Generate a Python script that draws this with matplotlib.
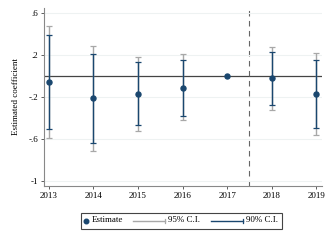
import matplotlib
matplotlib.use("Agg")
import matplotlib.pyplot as plt
from matplotlib.lines import Line2D
from matplotlib.patches import Rectangle
import numpy as np

plt.rcParams['font.family'] = ['Liberation Serif', 'DejaVu Serif']

# ...   data
years = [2013, 2014, 2015, 2016, 2017, 2018, 2019]
estimate = [-0.055, -0.21, -0.17, -0.11, 0.0, -0.02, -0.175]
ci90_lo = [-0.505, -0.635, -0.47, -0.38, 0.0, -0.28, -0.50]
ci90_hi = [0.39, 0.205, 0.13, 0.15, 0.0, 0.23, 0.15]
ci95_lo = [-0.59, -0.71, -0.52, -0.42, 0.0, -0.32, -0.56]
ci95_hi = [0.48, 0.29, 0.18, 0.21, 0.0, 0.28, 0.215]
yticks = [0.6, 0.2, -0.2, -0.6, -1.0]
ytick_labels = ['.6', '.2', '-.2', '-.6', '-1']

navy = '#1a476f'
gray = '#a8a8a8'

W, H = 330, 240
fig = plt.figure(figsize=(W / 100, H / 100), dpi=100)
ax = fig.add_axes([0.133, 0.225, 0.843, 0.742])

x = np.array(years, dtype=float)
est = np.array(estimate)
has_ci = np.array(ci95_hi) != np.array(ci95_lo)

# 95% C.I.
ax.errorbar(x[has_ci], est[has_ci],
            yerr=[est[has_ci] - np.array(ci95_lo)[has_ci], np.array(ci95_hi)[has_ci] - est[has_ci]],
            fmt='none', ecolor=gray, elinewidth=1.0, capsize=2.5, capthick=0.9, zorder=2)
# 90% C.I.
ax.errorbar(x[has_ci], est[has_ci],
            yerr=[est[has_ci] - np.array(ci90_lo)[has_ci], np.array(ci90_hi)[has_ci] - est[has_ci]],
            fmt='none', ecolor=navy, elinewidth=1.0, capsize=2.5, capthick=0.9, zorder=3)
# estimates
ax.plot(x, est, 'o', color=navy, markersize=3.6, zorder=4)

ax.axhline(0, color='#444444', lw=0.9, zorder=1)
ax.axvline(2017.5, color='#666666', lw=0.8, ls=(0, (5, 4)), zorder=1)

ax.set_xlim(2012.89, 2019.13)
ax.set_ylim(-1.048, 0.648)
ax.set_xticks(years)
ax.set_xticklabels([str(y) for y in years], fontsize=6.5)
ax.set_yticks(yticks)
ax.set_yticklabels(ytick_labels, fontsize=6.5)
ax.set_ylabel('Estimated coefficient', fontsize=6.5, labelpad=6)
ax.grid(axis='y', color='#eef2f2', lw=0.8, zorder=0)
ax.tick_params(length=2.5, width=0.6, color='#444444', pad=1.5)

for s in ['top', 'right']:
    ax.spines[s].set_visible(False)
for s in ['left', 'bottom']:
    ax.spines[s].set_color('#888888')
    ax.spines[s].set_linewidth(0.8)

# legend drawn by hand (Stata style), figure pixel coords
def fx(px):
    return px / W

def fy(py):
    return 1 - py / H

ly = 220.5
fig.add_artist(Rectangle((fx(81), fy(228.5)), fx(282) - fx(81), fy(212.5) - fy(228.5),
                         transform=fig.transFigure, fill=False, ec='#444444', lw=0.8))
fig.add_artist(Line2D([fx(85.5)], [fy(ly)], marker='o', color=navy, markersize=3.3,
                      ls='none', transform=fig.transFigure))
fig.text(fx(92), fy(ly), 'Estimate', fontsize=6.5, va='center', ha='left')
for x0, x1, c, lab in [(133, 165, gray, '95% C.I.'), (211, 243, navy, '90% C.I.')]:
    fig.add_artist(Line2D([fx(x0), fx(x1)], [fy(ly), fy(ly)], color=c, lw=1.0,
                          transform=fig.transFigure))
    fig.add_artist(Line2D([fx(x1), fx(x1)], [fy(ly - 2), fy(ly + 2)], color=c, lw=0.9,
                          transform=fig.transFigure))
    fig.text(fx(x1 + 3), fy(ly), lab, fontsize=6.5, va='center', ha='left')

fig.savefig('out.png', dpi=100)
